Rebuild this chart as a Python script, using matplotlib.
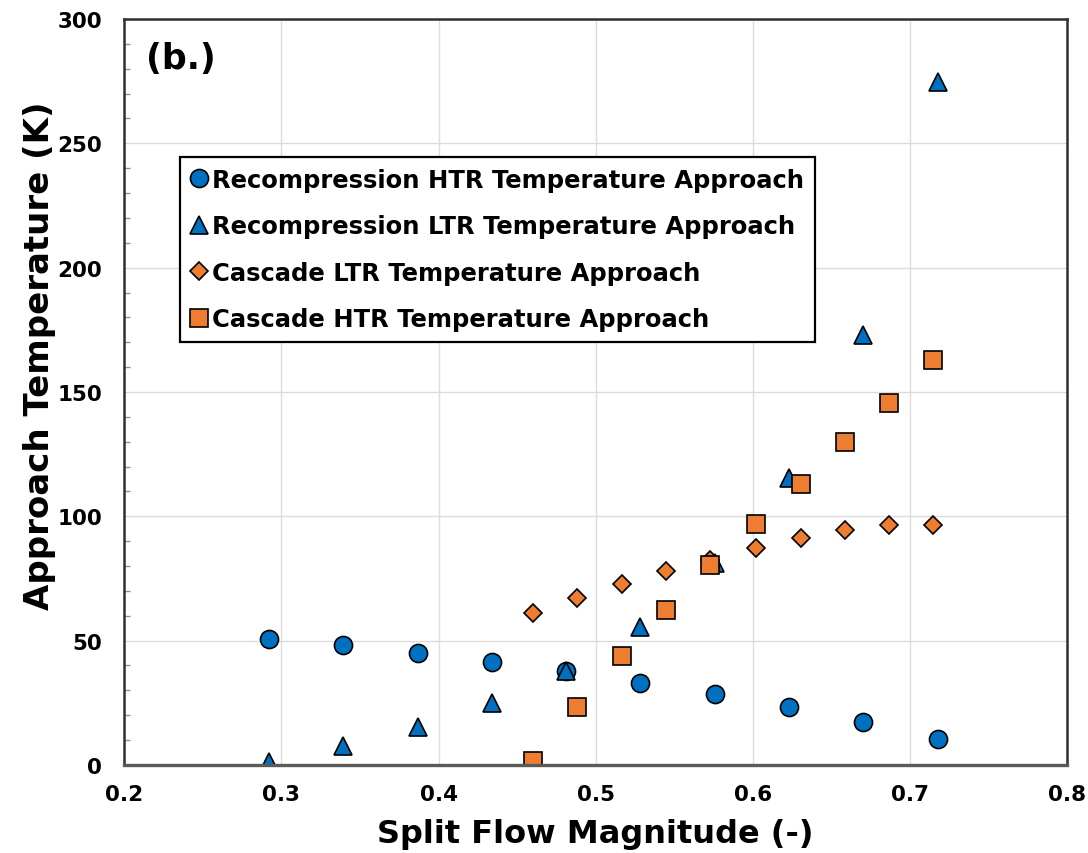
import matplotlib
matplotlib.use("Agg")
import matplotlib.pyplot as plt
from matplotlib.ticker import MultipleLocator

plt.rcParams['font.family'] = ['DejaVu Sans']
plt.rcParams['font.weight'] = 'bold'

# split flow values for the recompression cycle
split_rc = [0.292, 0.339, 0.387, 0.434, 0.481, 0.528, 0.576, 0.623, 0.670, 0.718]
rc_htr = [50.8, 48.1, 44.9, 41.3, 37.8, 33.0, 28.7, 23.5, 17.3, 10.4]
rc_ltr = [1.0, 7.5, 15.1, 24.8, 37.6, 55.6, 81.3, 115.4, 172.9, 274.6]

# split flow values for the cascade cycle
split_cc = [0.460, 0.488, 0.517, 0.545, 0.573, 0.602, 0.631, 0.659, 0.687, 0.715]
cc_ltr = [61.2, 67.3, 72.6, 78.2, 82.5, 87.2, 91.2, 94.3, 96.3, 96.3]
cc_htr = [1.7, 23.4, 43.8, 62.3, 80.3, 97.1, 113.1, 129.7, 145.5, 162.9]

blue = '#0070C0'
orange = '#ED7D31'

fig = plt.figure(figsize=(10.88, 8.54), dpi=100)
ax = fig.add_axes([0.1143, 0.1031, 0.8664, 0.8735])

mk = dict(linestyle='none', markeredgecolor='black', markeredgewidth=1.2)
ax.plot(split_rc, rc_htr, marker='o', markersize=13, color=blue,
        label='Recompression HTR Temperature Approach', **mk)
ax.plot(split_rc, rc_ltr, marker='^', markersize=12.5, color=blue,
        label='Recompression LTR Temperature Approach', **mk)
ax.plot(split_cc, cc_ltr, marker='D', markersize=9.2, color=orange,
        label='Cascade LTR Temperature Approach', **mk)
ax.plot(split_cc, cc_htr, marker='s', markersize=13, color=orange,
        label='Cascade HTR Temperature Approach', **mk)

ax.set_xlim(0.2, 0.8)
ax.set_ylim(0, 300)
ax.xaxis.set_major_locator(MultipleLocator(0.1))
ax.yaxis.set_major_locator(MultipleLocator(50))
ax.yaxis.set_minor_locator(MultipleLocator(10))
ax.xaxis.set_major_formatter(plt.FuncFormatter(lambda v, p: f'{v:.1f}'))

ax.grid(True, which='major', color='#dcdcdc', linewidth=1.0)
ax.set_axisbelow(True)

ax.tick_params(axis='both', which='major', length=0, labelsize=15.5)
ax.tick_params(axis='y', which='major', pad=16)
ax.tick_params(axis='x', which='major', pad=14)
ax.tick_params(axis='y', which='minor', direction='in', length=4,
               width=1, color='#909090')
for lbl in ax.get_xticklabels() + ax.get_yticklabels():
    lbl.set_fontweight('bold')

for side in ['top', 'right', 'left']:
    ax.spines[side].set_color('#303030')
    ax.spines[side].set_linewidth(1.8)
ax.spines['bottom'].set_color('#5a5a5a')
ax.spines['bottom'].set_linewidth(2.4)

ax.set_xlabel('Split Flow Magnitude (-)', fontsize=23, fontweight='bold', labelpad=10)
ax.set_ylabel('Approach Temperature (K)', fontsize=24.5, fontweight='bold')
ax.yaxis.set_label_coords(-0.073, 0.55)

ax.text(0.023, 0.97, '(b.)', transform=ax.transAxes, fontsize=25,
        fontweight='bold', ha='left', va='top')

leg = ax.legend(loc='upper left', bbox_to_anchor=(0.059, 0.815),
                borderaxespad=0, frameon=True, fancybox=False,
                borderpad=0.45, labelspacing=0.92, handlelength=0.7,
                handletextpad=0.17, prop={'weight': 'bold', 'size': 17.5})
leg.get_frame().set_edgecolor('black')
leg.get_frame().set_linewidth(1.6)
leg.get_frame().set_alpha(1)

fig.savefig('out.png', dpi=100)
